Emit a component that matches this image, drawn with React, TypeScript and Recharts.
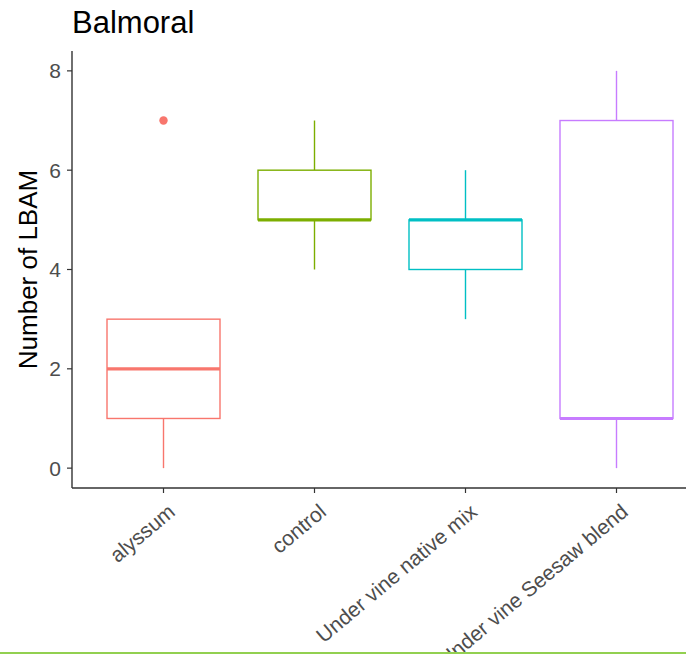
import { Bar, ComposedChart, Scatter, XAxis, YAxis } from "recharts";

const categories = ["alyssum", "control", "Under vine native mix", "Under vine Seesaw blend"];
const lowerWhisker = [0, 4, 3, 0];
const lowerQuartile = [1, 5, 4, 1];
const medians = [2, 5, 5, 1];
const upperQuartile = [3, 6, 5, 7];
const upperWhisker = [3, 7, 6, 8];
const outliers: (number | null)[] = [7, null, null, null];
const yTicks = [0, 2, 4, 6, 8];

const COLORS = ["#F8766D", "#7CAE00", "#00BFC4", "#C77CFF"];
const FONT = '"Liberation Sans", Arial, sans-serif';
const AXIS = "#333333";
const TEXT = "#4D4D4D";

const data = categories.map((name, i) => ({
  name,
  min: lowerWhisker[i],
  q1: lowerQuartile[i],
  median: medians[i],
  q3: upperQuartile[i],
  max: upperWhisker[i],
  outlier: outliers[i],
}));

function BoxShape(props: any) {
  const { x, y, width, height, payload, index } = props;
  const color = COLORS[index % COLORS.length];
  const top = Math.min(y, y + height);
  const h = Math.abs(height);
  const k = h / (payload.max - payload.min);
  const yOf = (v: number) => top + (payload.max - v) * k;
  const cx = x + width / 2;
  return (
    <g>
      <line x1={cx} x2={cx} y1={yOf(payload.max)} y2={yOf(payload.q3)} stroke={color} strokeWidth={1.4} />
      <line x1={cx} x2={cx} y1={yOf(payload.q1)} y2={yOf(payload.min)} stroke={color} strokeWidth={1.4} />
      <rect
        x={x}
        y={yOf(payload.q3)}
        width={width}
        height={yOf(payload.q1) - yOf(payload.q3)}
        fill="#FFFFFF"
        stroke={color}
        strokeWidth={1.4}
      />
      <line x1={x} x2={x + width} y1={yOf(payload.median)} y2={yOf(payload.median)} stroke={color} strokeWidth={3.2} />
    </g>
  );
}

function OutlierShape(props: any) {
  const { cx, cy, payload, index } = props;
  if (payload?.outlier == null || cy == null || isNaN(cy)) return <g />;
  return <circle cx={cx} cy={cy} r={4.2} fill={COLORS[index % COLORS.length]} />;
}

function XTick(props: any) {
  const { x, y, payload } = props;
  const ax = x + 13;
  const ay = y + 21;
  return (
    <text
      x={ax}
      y={ay}
      transform={`rotate(-40 ${ax} ${ay})`}
      textAnchor="end"
      fontSize={21}
      fontFamily={FONT}
      fill={TEXT}
    >
      {payload.value}
    </text>
  );
}

function YTitle(props: any) {
  const vb = props.viewBox || { x: 0, y: 51, width: 72, height: 437 };
  const cx = vb.x + 37;
  const cy = vb.y + vb.height / 2;
  return (
    <text
      x={cx}
      y={cy}
      transform={`rotate(-90 ${cx} ${cy})`}
      textAnchor="middle"
      fontSize={26}
      fontFamily={FONT}
      fill="#000000"
    >
      Number of LBAM
    </text>
  );
}

export default function App() {
  return (
    <div
      style={{
        position: "absolute",
        left: 0,
        top: 0,
        width: 686,
        height: 655,
        overflow: "hidden",
        background: "#FFFFFF",
        fontFamily: FONT,
      }}
    >
      <div
        style={{
          position: "absolute",
          left: 72,
          top: 8,
          fontSize: 31,
          lineHeight: "30px",
          color: "#000000",
        }}
      >
        Balmoral
      </div>
      <ComposedChart
        width={706}
        height={652}
        data={data}
        margin={{ top: 51, right: 0, bottom: 0, left: 0 }}
      >
        <XAxis
          dataKey="name"
          type="category"
          height={164}
          padding={{ left: 16, right: 14 }}
          axisLine={{ stroke: AXIS, strokeWidth: 1.4 }}
          tickLine={{ stroke: AXIS, strokeWidth: 1.2 }}
          tickSize={5}
          tickMargin={0}
          tick={<XTick />}
          interval={0}
        />
        <YAxis
          type="number"
          domain={[-0.4, 8.4]}
          ticks={yTicks}
          width={72}
          axisLine={{ stroke: AXIS, strokeWidth: 1.4 }}
          tickLine={{ stroke: AXIS, strokeWidth: 1.2 }}
          tickSize={5}
          tickMargin={6}
          tick={{ fontSize: 21, fontFamily: FONT, fill: TEXT }}
          allowDataOverflow
          label={<YTitle />}
        />
        <Bar
          dataKey={(d: any) => [d.min, d.max]}
          barSize={113}
          shape={<BoxShape />}
          isAnimationActive={false}
        />
        <Scatter dataKey="outlier" shape={<OutlierShape />} isAnimationActive={false} />
      </ComposedChart>
      <div
        style={{
          position: "absolute",
          left: 0,
          top: 652,
          width: 686,
          height: 2,
          background: "#92D050",
        }}
      />
    </div>
  );
}
